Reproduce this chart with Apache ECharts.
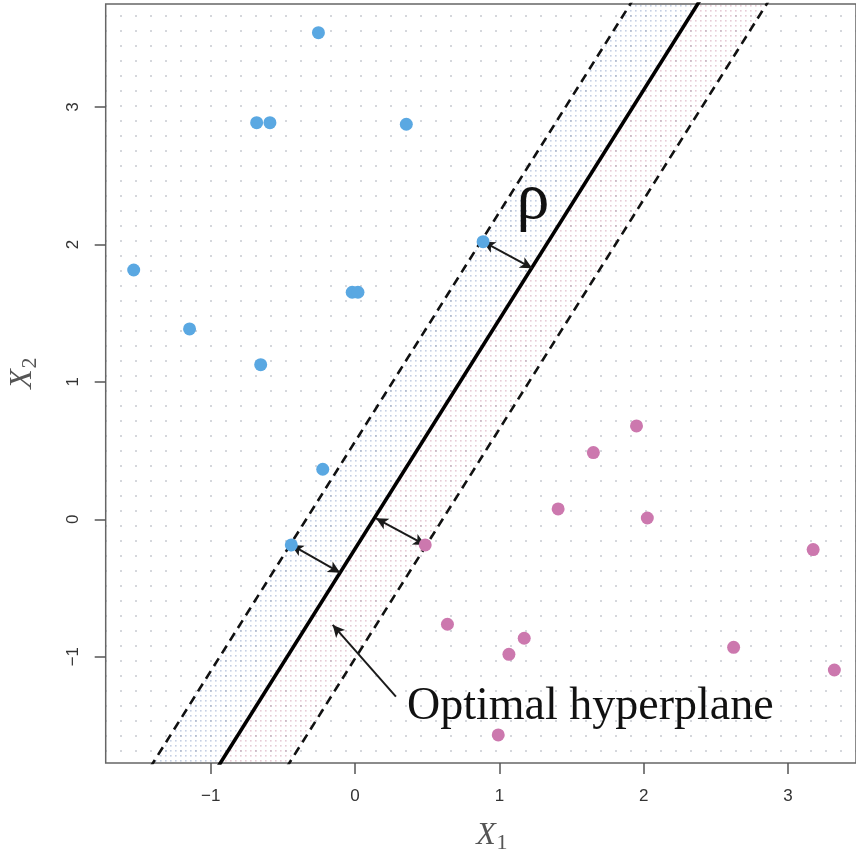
<!DOCTYPE html>
<html>
<head>
<meta charset="utf-8">
<script src="https://cdn.jsdelivr.net/npm/echarts@6/dist/echarts.min.js"></script>
<style>
  html, body { margin: 0; padding: 0; background: #fff; }
  #chart { width: 856px; height: 856px; }
</style>
</head>
<body>
<div id="chart"></div>
<script>
const bluePoints = [
  [-0.254, 3.541], [-0.682, 2.886], [-0.590, 2.886], [0.355, 2.875],
  [-1.534, 1.814], [-0.020, 1.652], [0.020, 1.652], [-1.147, 1.385],
  [-0.654, 1.125], [0.887, 2.020], [-0.224, 0.364], [-0.442, -0.187]
]
const pinkPoints = [
  [0.486, -0.187], [1.950, 0.679], [1.651, 0.485], [1.407, 0.075],
  [2.025, 0.009], [3.174, -0.221], [0.640, -0.764], [1.172, -0.866],
  [1.066, -0.983], [2.623, -0.932], [3.321, -1.097], [0.992, -1.570]
]
// hyperplane and margins, end points beyond the plotted range
const hyperplane = [[-1.009, -1.9], [2.464, 3.9]]
const upperMargin = [[-1.476, -1.9], [1.997, 3.9]]
const lowerMargin = [[-0.531, -1.9], [2.942, 3.9]]
// arrows: [from, to]
const marginArrows = [
  [[0.887, 2.020], [1.227, 1.827]],
  [[-0.442, -0.187], [-0.104, -0.389]],
  [[0.486, -0.187], [0.145, 0.007]]
]
const labelArrow = [[0.283, -1.291], [-0.155, -0.769]]
const tickValues = [-1, 0, 1, 2, 3]
const xRange = [-1.728, 3.471]
const yRange = [-1.774, 3.75]

function dotPattern(step, size, color) {
  const c = document.createElement('canvas')
  c.width = step
  c.height = step
  const ctx = c.getContext('2d')
  ctx.fillStyle = color
  ctx.fillRect(0, 0, size, size)
  return { image: c, repeat: 'repeat' }
}

const bands = [
  { a: upperMargin, b: hyperplane, fill: dotPattern(5, 1.6, 'rgba(140,160,200,0.5)') },
  { a: hyperplane, b: lowerMargin, fill: dotPattern(5, 1.6, 'rgba(200,140,165,0.45)') }
]

const tickLabel = (v) => (v < 0 ? '\u2212' + Math.abs(v) : String(v))

const axisCommon = {
  type: 'value',
  splitLine: { show: false },
  axisLine: { show: false, onZero: false },
  axisTick: { show: true, length: 11, customValues: tickValues, lineStyle: { color: '#555', width: 1.5 } },
  axisLabel: { customValues: tickValues, formatter: tickLabel, color: '#333', fontSize: 17, fontFamily: 'Liberation Sans' }
}

const chart = echarts.init(document.getElementById('chart'), null, { renderer: 'canvas' })
chart.setOption({
  animation: false,
  backgroundColor: '#fff',
  grid: {
    left: 105.7, top: 4, right: -2, bottom: 93,
    show: true,
    borderColor: '#666',
    borderWidth: 1.5,
    backgroundColor: dotPattern(15, 2, 'rgba(185,188,196,0.6)')
  },
  xAxis: Object.assign({}, axisCommon, {
    min: xRange[0], max: xRange[1],
    axisLabel: Object.assign({}, axisCommon.axisLabel, { margin: 25 })
  }),
  yAxis: Object.assign({}, axisCommon, {
    min: yRange[0], max: yRange[1],
    axisLabel: Object.assign({}, axisCommon.axisLabel, { margin: 24, rotate: 90 })
  }),
  series: [
    {
      type: 'custom',
      clip: true,
      silent: true,
      z: 1,
      data: bands.map((b, i) => [i]),
      renderItem: function (params, api) {
        const b = bands[params.dataIndex]
        const pts = [b.a[0], b.a[1], b.b[1], b.b[0]].map((p) => api.coord(p))
        return { type: 'polygon', shape: { points: pts }, style: { fill: b.fill, stroke: null } }
      }
    },
    {
      type: 'line', data: upperMargin, symbol: 'none', z: 3, silent: true,
      lineStyle: { color: '#111', width: 2.6, type: [9, 6] }
    },
    {
      type: 'line', data: lowerMargin, symbol: 'none', z: 3, silent: true,
      lineStyle: { color: '#111', width: 2.6, type: [9, 6] }
    },
    {
      type: 'line', data: hyperplane, symbol: 'none', z: 3, silent: true,
      lineStyle: { color: '#000', width: 3.6 }
    },
    {
      type: 'scatter', data: [], z: 4, silent: true,
      markLine: {
        silent: true,
        animation: false,
        symbol: ['arrow', 'arrow'],
        symbolSize: [9, 12],
        label: { show: false },
        lineStyle: { color: '#1a1a1a', width: 2, type: 'solid' },
        emphasis: { disabled: true },
        data: marginArrows.map((a) => [{ coord: a[0] }, { coord: a[1] }]).concat([
          [{ coord: labelArrow[0], symbol: 'none' }, { coord: labelArrow[1], symbol: 'arrow' }]
        ])
      }
    },
    {
      type: 'scatter', data: bluePoints, symbolSize: 13, z: 5, silent: true,
      itemStyle: { color: '#5aa8e2', opacity: 1 }
    },
    {
      type: 'scatter', data: pinkPoints, symbolSize: 13, z: 5, silent: true,
      itemStyle: { color: '#cc78ae', opacity: 1 }
    }
  ],
  graphic: [
    {
      type: 'text', x: 533, y: 201, z: 100,
      style: { text: '\u03c1', font: '66px "Liberation Serif"', fill: '#111', align: 'center', verticalAlign: 'middle' }
    },
    {
      type: 'text', x: 407, y: 707, z: 100,
      style: { text: 'Optimal hyperplane', font: '46px "Liberation Serif"', fill: '#111', align: 'left', verticalAlign: 'middle' }
    },
    {
      type: 'text', x: 486, y: 836, z: 100,
      style: { text: 'X', font: 'italic 32px "Liberation Serif"', fill: '#555', align: 'center', verticalAlign: 'middle' }
    },
    {
      type: 'text', x: 502, y: 843, z: 100,
      style: { text: '1', font: '22px "Liberation Serif"', fill: '#555', align: 'center', verticalAlign: 'middle' }
    },
    {
      type: 'text', x: 23, y: 379, z: 100, rotation: Math.PI / 2,
      style: { text: 'X', font: 'italic 32px "Liberation Serif"', fill: '#555', align: 'center', verticalAlign: 'middle' }
    },
    {
      type: 'text', x: 30, y: 363, z: 100, rotation: Math.PI / 2,
      style: { text: '2', font: '22px "Liberation Serif"', fill: '#555', align: 'center', verticalAlign: 'middle' }
    }
  ]
})
</script>
</body>
</html>
